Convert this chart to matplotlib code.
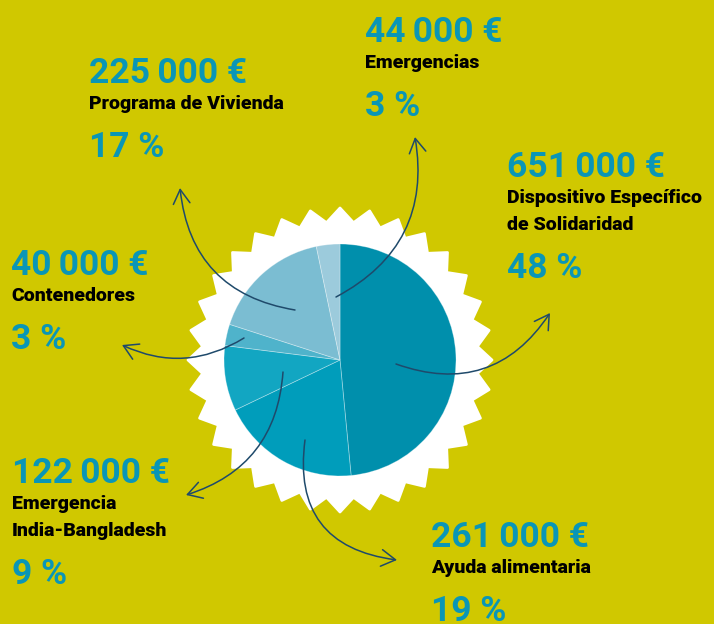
import numpy as np
import matplotlib.pyplot as plt
from matplotlib.patches import Polygon, FancyArrowPatch

plt.rcParams['font.family'] = ['Roboto', 'DejaVu Sans']

# data
categories = ['Dispositivo Específico\nde Solidaridad', 'Ayuda alimentaria',
              'Emergencia\nIndia-Bangladesh', 'Contenedores',
              'Programa de Vivienda', 'Emergencias']
amounts = [651000, 261000, 122000, 40000, 225000, 44000]
percents = [48, 19, 9, 3, 17, 3]

colors = ['#008fac', '#009dbb', '#12a6c2', '#4fb3cb', '#7bbdd2', '#9ccbdc']
bg = '#d0c800'
teal = '#0a96b6'
navy = '#1f4a6b'

W, H = 714, 624
cx, cy = 340, H - 360
R = 116

# label layout: x, baseline of amount (pixels from top)
label_pos = [(507, 177), (431, 547), (12, 483), (11, 275), (89, 83), (365, 42)]
# arrows: start, end (pixels from top), curvature
arrows = [((396, 364), (550, 313), 0.39),
          ((305, 440), (397, 560), 0.5),
          ((283, 372), (186, 495), -0.34),
          ((244, 338), (122, 345), -0.27),
          ((295, 310), (180, 188), -0.38),
          ((336, 297), (415, 137), 0.36)]

fig = plt.figure(figsize=(W / 100, H / 100), dpi=100)
fig.patch.set_facecolor(bg)
ax = fig.add_axes([0, 0, 1, 1])
ax.set_facecolor(bg)

# white saw-tooth badge
n = 32
ang = np.linspace(np.pi / 2, np.pi / 2 + 2 * np.pi, 2 * n, endpoint=False)
rad = np.where(np.arange(2 * n) % 2 == 0, 152, 138)
pts = np.column_stack([cx + rad * np.cos(ang), cy + rad * np.sin(ang)])
ax.add_patch(Polygon(pts, closed=True, facecolor='white', edgecolor='white',
                     linewidth=2, joinstyle='round', zorder=1))

ax.pie(amounts, colors=colors, startangle=90, counterclock=False,
       center=(cx, cy), radius=R, frame=True,
       wedgeprops=dict(edgecolor=(1, 1, 1, 0.35), linewidth=0.6, zorder=2))

for (p0, p1, r) in arrows:
    a = FancyArrowPatch((p0[0], H - p0[1]), (p1[0], H - p1[1]),
                        connectionstyle=f'arc3,rad={r}',
                        arrowstyle='->,head_length=0.85,head_width=0.5',
                        mutation_scale=12, color=navy, lw=1.1,
                        shrinkA=0, shrinkB=0, zorder=4)
    ax.add_patch(a)

for cat, amt, pct, (x, yb) in zip(categories, amounts, percents, label_pos):
    amt_txt = f'{amt:,}'.replace(',', '\u2009') + ' €'
    ax.text(x, H - yb, amt_txt, fontsize=25.5, fontweight='bold', color=teal,
            ha='left', va='baseline')
    lines = cat.split('\n')
    for i, ln in enumerate(lines):
        ax.text(x, H - (yb + 26 + 27 * i), ln, fontsize=14, fontweight='heavy',
                color='black', ha='left', va='baseline')
    ax.text(x, H - (yb + 74 + 27 * (len(lines) - 1)), f'{pct} %', fontsize=25.5,
            fontweight='bold', color=teal, ha='left', va='baseline')

ax.set_xlim(0, W)
ax.set_ylim(0, H)
ax.set_aspect('equal')
ax.axis('off')

fig.savefig('out.png', dpi=100, facecolor=bg)
